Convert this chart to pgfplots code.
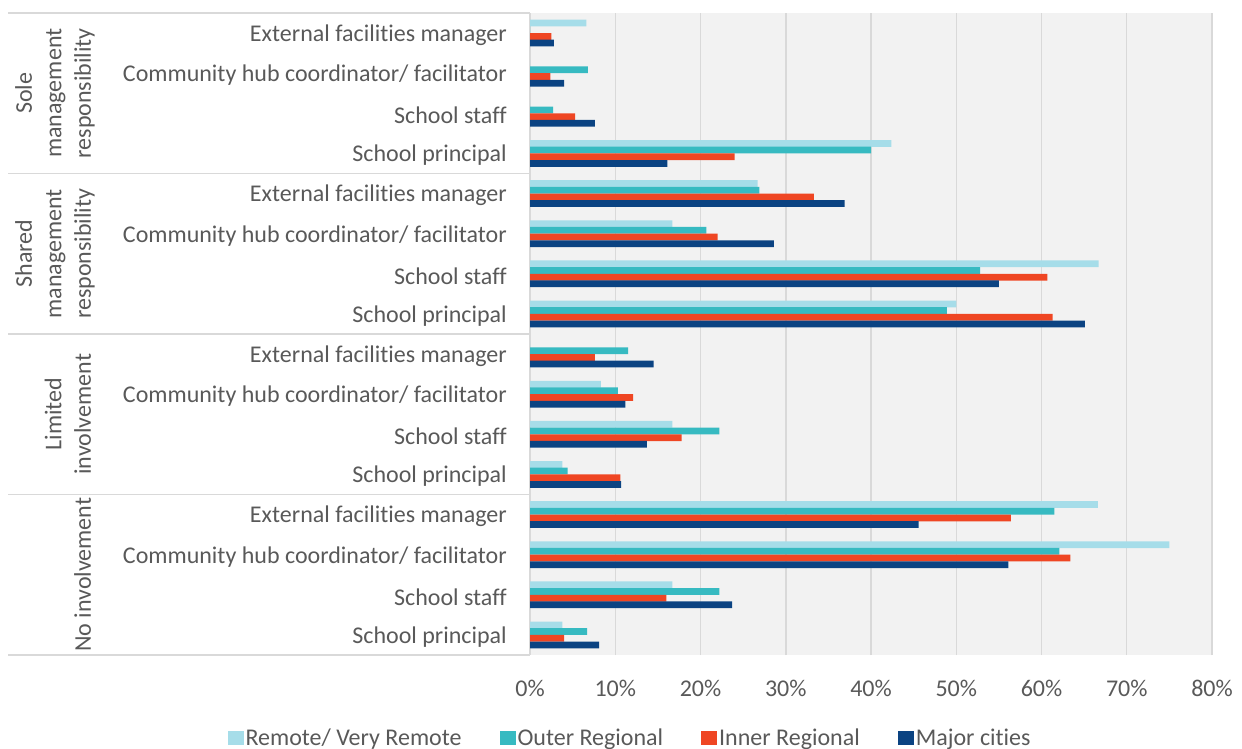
\documentclass[border=0pt]{standalone}
\usepackage{fontspec}
\setmainfont{Carlito}[Ligatures={NoCommon}]
\usepackage{pgfplots}
\usepackage{pgfplotstable}
\pgfplotsset{compat=1.18}
\definecolor{cRemote}{HTML}{A6DDE9}
\definecolor{cOuter}{HTML}{37BAC1}
\definecolor{cInner}{HTML}{EF4623}
\definecolor{cMajor}{HTML}{0B4382}
\definecolor{cGrid}{HTML}{D9D9D9}
\definecolor{cBack}{HTML}{F2F2F2}
\definecolor{cText}{HTML}{595959}
\newcommand\lab{\fontsize{24bp}{29.5bp}\selectfont}

% rows from bottom (0) to top (15)
\pgfplotstableread{
y  remote outer inner major
0  3.8  6.7  4.0  8.1
1  16.7 22.2 16.0 23.7
2  75.0 62.1 63.4 56.1
3  66.6 61.5 56.4 45.6
4  3.8  4.4  10.6 10.7
5  16.7 22.2 17.8 13.7
6  8.3  10.3 12.1 11.2
7  0    11.5 7.6  14.5
8  50.0 48.9 61.3 65.1
9  66.7 52.8 60.7 55.0
10 16.7 20.7 22.0 28.6
11 26.7 26.9 33.3 36.9
12 42.4 40.0 24.0 16.1
13 0    2.7  5.3  7.6
14 0    6.8  2.4  4.0
15 6.6  0    2.5  2.8
}\datatable

\begin{document}
\begin{tikzpicture}[font=\lab]
\path[use as bounding box] (0bp,0bp) rectangle (1242bp,749bp);
\begin{axis}[
  at={(530bp,94bp)}, anchor=south west,
  scale only axis, width=682bp, height=642bp,
  xbar, bar width=0.167,
  xmin=0, xmax=80, ymin=-0.5, ymax=15.5,
  axis background/.style={fill=cBack},
  axis line style={draw=none},
  xmajorgrids, grid style={cGrid, line width=1.5bp},
  major tick length=0pt,
  xtick={0,10,...,80},
  xticklabel={\pgfmathprintnumber{\tick}\%},
  /pgf/number format/assume math mode=true,
  ytick={0,...,15},
  yticklabels={School principal,School staff,Community hub coordinator/ facilitator,External facilities manager,
               School principal,School staff,Community hub coordinator/ facilitator,External facilities manager,
               School principal,School staff,Community hub coordinator/ facilitator,External facilities manager,
               School principal,School staff,Community hub coordinator/ facilitator,External facilities manager},
  every tick label/.append style={font=\lab, text=cText},
  yticklabel style={anchor=east, inner sep=0pt, xshift=-23bp, yshift=-2bp},
  xticklabel style={anchor=north, inner sep=0pt, yshift=-25bp},
  legend columns=4,
  legend style={at={(0.1467,-0.129)}, anchor=center, draw=none, fill=none,
    font=\lab, text=cText,
    nodes={inner sep=2bp},
    /tikz/every even column/.append style={column sep=36bp}},
  legend image code/.code={\fill[#1] (0bp,-7bp) rectangle (16bp,7bp);},
  clip=false,
]
\addplot[fill=cRemote, draw=none, bar shift=0.25]  table[x=remote, y=y]{\datatable};
\addplot[fill=cOuter,  draw=none, bar shift=0.0835] table[x=outer,  y=y]{\datatable};
\addplot[fill=cInner,  draw=none, bar shift=-0.0835] table[x=inner,  y=y]{\datatable};
\addplot[fill=cMajor,  draw=none, bar shift=-0.25] table[x=major,  y=y]{\datatable};
\legend{Remote/ Very Remote, Outer Regional, Inner Regional, Major cities}
\end{axis}
\foreach \yy in {94,254.5,415,575.5,736}{
  \draw[cGrid, line width=1.5bp] (8bp,\yy bp) -- (530bp,\yy bp);
}
\begin{scope}[every node/.style={rotate=90, anchor=south, align=center, text depth=6bp, inner sep=0pt, text=cText, font=\lab}]
\node at (97bp,655.75bp) {Sole\\management\\responsibility};
\node at (97bp,495.25bp) {Shared\\management\\responsibility};
\node at (97bp,334.75bp) {Limited\\involvement};
\node at (97bp,174.25bp) {No involvement};
\end{scope}
\end{tikzpicture}
\end{document}
